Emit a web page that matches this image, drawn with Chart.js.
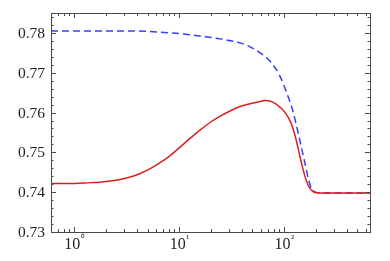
<!DOCTYPE html>
<html>
<head>
<meta charset="utf-8">
<script src="https://cdn.jsdelivr.net/npm/chart.js@4"></script>
<style>
  body { margin: 0; background: #fff; }
</style>
</head>
<body>
<canvas id="chart" width="390" height="261"></canvas>
<script>
// curve values
const redX = [0.6, 1.02, 1.42, 1.77, 2.2, 2.74, 3.41, 4.25, 5.3, 6.59, 8.21, 10.2, 12.7, 15.8, 19.7, 24.6, 30.6, 38.1, 47.4, 59.1, 65.9, 73.6,
  85.2, 95.7, 106, 114, 123, 132, 142, 150, 158.5, 167.5, 177, 187, 197, 220, 660];
const redY = [0.7422, 0.7422, 0.7424, 0.7425, 0.7428, 0.7432, 0.7438, 0.7447, 0.7459, 0.7474, 0.7492, 0.7513, 0.7535, 0.7556, 0.7575, 0.7591, 0.7604, 0.7615, 0.7622, 0.7628, 0.7630, 0.7629,
  0.7620, 0.7609, 0.7594, 0.7579, 0.7556, 0.7526, 0.7489, 0.7463, 0.7439, 0.7421, 0.7409, 0.7403, 0.7399, 0.7398, 0.7398];
const blueX = [0.6, 3.41, 6.59, 10.2, 15.8, 24.6, 38.1, 47.4, 59.1, 73.6, 91.6, 109, 120.5, 132, 142, 158.5, 170, 183, 193, 204, 230, 660];
const blueY = [0.7805, 0.7805, 0.7802, 0.7798, 0.7792, 0.7785, 0.7775, 0.7765, 0.7750, 0.7729, 0.7691, 0.7641, 0.7607, 0.7565, 0.7528, 0.7472, 0.7435, 0.7409, 0.7402, 0.7399, 0.7398, 0.7398];

const xMajor = [1, 10, 100];
const xMinor = [0.6, 0.7, 0.8, 0.9, 2, 3, 4, 5, 6, 7, 8, 9, 20, 30, 40, 50, 60, 70, 80, 90, 200, 300, 400, 500, 600];
const yMajor = [0.73, 0.74, 0.75, 0.76, 0.77, 0.78];
const yMinor = [0.732, 0.734, 0.736, 0.738, 0.742, 0.744, 0.746, 0.748, 0.752, 0.754, 0.756, 0.758,
  0.762, 0.764, 0.766, 0.768, 0.772, 0.774, 0.776, 0.778, 0.782, 0.784];
const xSup = ['\u2070', '\u00b9', '\u00b2'];

const zip = (xs, ys) => xs.map((x, i) => ({ x: x, y: ys[i] }));

const frameColor = '#4a4a4a';
const textColor = '#222';
const serif = '"Liberation Serif", "Times New Roman", serif';

const framePlugin = {
  id: 'frame',
  afterDraw(chart) {
    const ctx = chart.ctx;
    const a = chart.chartArea;
    const xs = chart.scales.x;
    const ys = chart.scales.y;
    ctx.save();
    ctx.strokeStyle = frameColor;
    ctx.lineWidth = 1;
    ctx.beginPath();

    const xTick = (v, len) => {
      const px = Math.round(xs.getPixelForValue(v)) + 0.5;
      ctx.moveTo(px, a.bottom); ctx.lineTo(px, a.bottom - len);
      ctx.moveTo(px, a.top); ctx.lineTo(px, a.top + len);
    };
    const yTick = (v, len) => {
      const py = Math.round(ys.getPixelForValue(v)) + 0.5;
      ctx.moveTo(a.left, py); ctx.lineTo(a.left + len, py);
      ctx.moveTo(a.right, py); ctx.lineTo(a.right - len, py);
    };
    xMajor.forEach(v => xTick(v, 5));
    xMinor.forEach(v => xTick(v, 3));
    yMajor.forEach(v => yTick(v, 5));
    yMinor.forEach(v => yTick(v, 2.5));
    ctx.stroke();

    ctx.strokeRect(Math.round(a.left) + 0.5, Math.round(a.top) + 0.5,
      Math.round(a.right - a.left), Math.round(a.bottom - a.top));

    ctx.fillStyle = textColor;
    ctx.textBaseline = 'middle';
    ctx.textAlign = 'right';
    ctx.font = '15.5px ' + serif;
    yMajor.forEach(v => ctx.fillText(v.toFixed(2), a.left - 6, ys.getPixelForValue(v) + 1));

    ctx.textAlign = 'left';
    ctx.textBaseline = 'alphabetic';
    xMajor.forEach((v, i) => {
      const px = xs.getPixelForValue(v);
      ctx.font = '16px ' + serif;
      const w1 = ctx.measureText('10').width;
      ctx.font = '10px ' + serif;
      const w2 = ctx.measureText(xSup[i]).width;
      const x0 = px - (w1 + w2) / 2;
      ctx.font = '16px ' + serif;
      ctx.fillText('10', x0, 249);
      ctx.font = '10px ' + serif;
      ctx.fillText(xSup[i], x0 + w1 + 0.5, 242);
    });
    ctx.restore();
  }
};

new Chart(document.getElementById('chart').getContext('2d'), {
  type: 'line',
  data: {
    datasets: [{
      data: zip(blueX, blueY),
      borderColor: '#3c3cff',
      borderWidth: 1.5,
      borderDash: [7, 4],
      pointRadius: 0,
      cubicInterpolationMode: 'monotone',
      fill: false,
      order: 2,
    }, {
      data: zip(redX, redY),
      borderColor: '#dc1e1e',
      borderWidth: 1.5,
      pointRadius: 0,
      cubicInterpolationMode: 'monotone',
      fill: false,
      order: 1,
    }],
  },
  options: {
    responsive: false,
    animation: false,
    layout: { padding: { left: 51, top: 13, right: 20, bottom: 29 } },
    plugins: { legend: { display: false }, tooltip: { enabled: false } },
    scales: {
      x: { type: 'logarithmic', min: 0.6, max: 660, display: false },
      y: { type: 'linear', min: 0.73, max: 0.785, display: false },
    },
  },
  plugins: [framePlugin],
});
</script>
</body>
</html>
